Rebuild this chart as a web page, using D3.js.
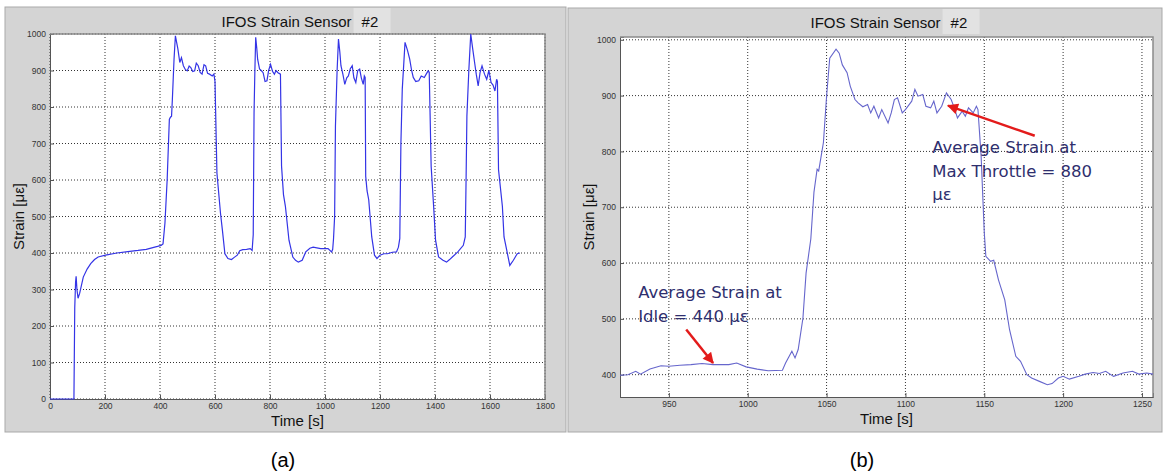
<!DOCTYPE html>
<html>
<head>
<meta charset="utf-8">
<script src="https://cdn.jsdelivr.net/npm/d3@7"></script>
<style>
body { margin: 0; background: #fff; }
svg { display: block; font-family: "Liberation Sans", Arial, sans-serif; }
</style>
</head>
<body>
<svg></svg>
<script>
// (a) whole run
let timeA = [0, 81, 87, 90, 93, 95, 98, 102, 108, 121, 135, 148, 162, 175, 202, 243, 283, 320, 350, 391, 404, 411, 418, 426, 434, 438, 442, 445, 451, 456, 465, 472, 478, 485, 492, 499, 506, 512, 519, 526, 532, 539, 546, 553, 560, 566, 573, 580, 590, 596, 600, 607, 620, 627, 636, 647, 660, 670, 681, 690, 701, 715, 728, 735, 739, 742, 745, 748, 752, 755, 762, 768, 775, 782, 789, 795, 802, 809, 816, 822, 829, 838, 842, 849, 856, 869, 883, 893, 903, 917, 930, 945, 957, 984, 1011, 1024, 1028, 1031, 1035, 1038, 1044, 1049, 1054, 1058, 1065, 1072, 1079, 1085, 1092, 1099, 1105, 1112, 1119, 1126, 1132, 1139, 1143, 1146, 1148, 1153, 1159, 1170, 1180, 1189, 1200, 1214, 1227, 1245, 1260, 1267, 1272, 1276, 1281, 1291, 1300, 1308, 1315, 1321, 1330, 1341, 1350, 1361, 1368, 1375, 1379, 1386, 1395, 1402, 1413, 1429, 1442, 1453, 1463, 1483, 1503, 1510, 1513, 1516, 1523, 1530, 1537, 1544, 1550, 1557, 1564, 1571, 1580, 1588, 1596, 1604, 1611, 1618, 1624, 1627, 1631, 1645, 1651, 1661, 1672, 1685, 1699, 1709]
let strainA = [0, 0, 0, 250, 320, 336, 300, 276, 290, 334, 356, 371, 382, 389, 394, 400, 404, 407, 410, 418, 421, 425, 482, 600, 766, 772, 775, 821, 930, 995, 959, 922, 935, 913, 903, 899, 912, 908, 897, 899, 920, 913, 895, 890, 916, 913, 892, 890, 885, 890, 870, 619, 509, 462, 398, 385, 382, 388, 394, 406, 409, 410, 412, 407, 450, 784, 900, 991, 960, 931, 904, 900, 894, 870, 872, 900, 917, 898, 890, 900, 894, 890, 638, 560, 528, 435, 389, 380, 375, 380, 403, 413, 416, 412, 412, 403, 410, 439, 500, 748, 900, 986, 950, 913, 890, 862, 880, 885, 905, 913, 880, 867, 900, 904, 880, 862, 885, 881, 610, 570, 546, 444, 394, 385, 394, 398, 398, 402, 403, 416, 440, 700, 849, 977, 955, 931, 900, 881, 870, 872, 885, 881, 890, 899, 895, 638, 528, 435, 389, 380, 375, 382, 389, 403, 421, 444, 600, 775, 900, 1000, 960, 922, 890, 858, 895, 913, 890, 876, 900, 867, 860, 844, 876, 870, 628, 528, 444, 407, 366, 380, 398, 400]
let xTicksA = [0, 200, 400, 600, 800, 1000, 1200, 1400, 1600, 1800]
let yTicksA = [0, 100, 200, 300, 400, 500, 600, 700, 800, 900, 1000]

// (b) one throttle cycle
let timeB = [919, 924, 929, 932, 938, 945, 950, 957, 964, 971, 978, 988, 993, 999, 1006, 1013, 1022, 1024, 1028, 1030, 1032, 1035, 1037, 1040, 1042, 1044, 1045, 1048, 1050, 1052, 1056, 1058, 1060, 1063, 1065, 1068, 1070, 1073, 1076, 1078, 1080, 1083, 1085, 1089, 1091, 1093, 1095, 1098, 1100, 1104, 1106, 1108, 1111, 1113, 1116, 1118, 1120, 1123, 1126, 1129, 1131, 1133, 1136, 1138, 1140, 1143, 1145, 1146, 1148, 1150, 1151, 1154, 1156, 1159, 1163, 1166, 1170, 1173, 1177, 1180, 1185, 1190, 1193, 1197, 1200, 1204, 1210, 1214, 1219, 1223, 1227, 1232, 1238, 1244, 1248, 1253, 1257]
let strainB = [399, 400, 406, 401, 410, 416, 415, 417, 418, 420, 418, 418, 421, 414, 410, 407, 408, 421, 442, 430, 445, 501, 582, 643, 727, 768, 765, 816, 899, 967, 983, 976, 955, 941, 917, 893, 887, 880, 884, 869, 881, 860, 875, 851, 869, 893, 896, 869, 875, 890, 911, 899, 902, 881, 878, 890, 869, 881, 905, 893, 878, 860, 872, 863, 878, 869, 881, 875, 792, 655, 612, 603, 605, 570, 534, 481, 433, 424, 400, 394, 388, 382, 384, 394, 397, 392, 397, 401, 404, 402, 406, 397, 403, 406, 401, 403, 401]
let xTicksB = [950, 1000, 1050, 1100, 1150, 1200, 1250]
let yTicksB = [400, 500, 600, 700, 800, 900, 1000]

// annotation text: lines with their start time / baseline strain
let noteLines = ['Average Strain at', 'Max Throttle = 880', 'με', 'Average Strain at', 'Idle = 440 με']
let noteTime = [1117, 1117, 1117, 930.5, 930.5]
let noteStrain = [797, 754, 713, 537, 494]
// arrows: tail -> tip
let arrowFrom = [[1182, 828], [961, 481]]
let arrowTo = [[1127, 882], [978, 421]]

let svg = d3.select('svg').attr('width', 1163).attr('height', 476)

let defs = svg.append('defs')
defs.append('marker')
    .attr('id', 'head')
    .attr('markerUnits', 'userSpaceOnUse')
    .attr('viewBox', '0 0 10 10')
    .attr('refX', 9).attr('refY', 5)
    .attr('markerWidth', 12).attr('markerHeight', 11)
    .attr('orient', 'auto')
    .append('path')
    .attr('d', 'M0,0 L10,5 L0,10 Z')
    .attr('fill', '#e31b1b')

let drawPanel = (p) => {
    let g = svg.append('g')
    g.append('rect')
        .attr('x', p.box[0]).attr('y', p.box[1])
        .attr('width', p.box[2]).attr('height', p.box[3])
        .attr('fill', '#d4d4d4')
        .attr('stroke', '#a9a9a9')

    let xScale = d3.scaleLinear().domain(p.xDomain).range([p.left, p.right])
    let yScale = d3.scaleLinear().domain(p.yDomain).range([p.bottom, p.top])

    g.append('rect')
        .attr('x', p.left).attr('y', p.top)
        .attr('width', p.right - p.left).attr('height', p.bottom - p.top)
        .attr('fill', '#fff')

    // grid
    g.append('g').selectAll('line')
        .data(p.xTicks)
        .enter()
        .append('line')
        .attr('x1', (d) => xScale(d)).attr('x2', (d) => xScale(d))
        .attr('y1', p.top).attr('y2', p.bottom)
        .attr('stroke', '#333').attr('stroke-dasharray', '1,2')
    g.append('g').selectAll('line')
        .data(p.yTicks)
        .enter()
        .append('line')
        .attr('x1', p.left).attr('x2', p.right)
        .attr('y1', (d) => yScale(d)).attr('y2', (d) => yScale(d))
        .attr('stroke', '#333').attr('stroke-dasharray', '1,2')

    let xAxis = d3.axisBottom(xScale).tickValues(p.xTicks).tickFormat(d3.format('d')).tickSize(-4).tickPadding(4)
    let yAxis = d3.axisLeft(yScale).tickValues(p.yTicks).tickFormat(d3.format('d')).tickSize(-4).tickPadding(4)
    let xg = g.append('g')
        .attr('transform', 'translate(0,' + p.bottom + ')')
        .call(xAxis)
    let yg = g.append('g')
        .attr('transform', 'translate(' + p.left + ',0)')
        .call(yAxis)
    for (let ax of [xg, yg]) {
        ax.select('.domain').attr('stroke', '#555')
        ax.selectAll('.tick line').attr('stroke', '#555')
        ax.selectAll('.tick text')
            .attr('fill', '#333')
            .style('font-size', '8.5px')
            .style('font-family', '"Liberation Sans", Arial, sans-serif')
    }
    // top / right edges of the box
    g.append('path')
        .attr('d', 'M' + p.left + ',' + p.top + 'H' + p.right + 'V' + p.bottom)
        .attr('fill', 'none')
        .attr('stroke', '#8a8a8a')
        .attr('stroke-width', 1.5)

    let line = d3.line()
        .x((d, i) => xScale(p.time[i]))
        .y((d) => yScale(d))
    g.append('path')
        .datum(p.strain)
        .attr('d', line)
        .attr('fill', 'none')
        .attr('stroke', p.color)
        .attr('stroke-width', p.lineWidth)

    // title with the lighter "#2" box
    let cx = (p.left + p.right) / 2
    let t1 = g.append('text')
        .attr('x', cx - 76).attr('y', p.titleY)
        .style('font-size', '15px').attr('fill', '#111')
        .text('IFOS Strain Sensor')
    let w1 = t1.node().getComputedTextLength()
    g.append('rect')
        .attr('x', cx - 76 + w1 + 2).attr('y', p.box[1] + 1)
        .attr('width', 37).attr('height', p.titleY - p.box[1] + 5)
        .attr('fill', '#e2e2e2')
    g.append('text')
        .attr('x', cx - 76 + w1 + 10).attr('y', p.titleY)
        .style('font-size', '15px').attr('fill', '#111')
        .text('#2')

    g.append('text')
        .attr('x', cx).attr('y', p.xLabelY)
        .attr('text-anchor', 'middle')
        .style('font-size', '15px').attr('fill', '#111')
        .text('Time [s]')
    g.append('text')
        .attr('transform', 'translate(' + p.yLabelX + ',' + ((p.top + p.bottom) / 2) + ') rotate(-90)')
        .attr('text-anchor', 'middle')
        .style('font-size', '15px').attr('fill', '#111')
        .text('Strain [με]')

    svg.append('text')
        .attr('x', p.capX).attr('y', 467)
        .attr('text-anchor', 'middle')
        .style('font-size', '20px').attr('fill', '#000')
        .text(p.caption)

    return [xScale, yScale, g]
}

drawPanel({
    box: [5, 7, 561, 425], left: 50, right: 545, top: 34, bottom: 399,
    xDomain: [0, 1800], yDomain: [0, 1000],
    xTicks: xTicksA, yTicks: yTicksA, time: timeA, strain: strainA,
    color: '#3434e6', lineWidth: 1.2, titleY: 27, xLabelY: 426, yLabelX: 24,
    capX: 283, caption: '(a)'
})

let [xB, yB, gB] = drawPanel({
    box: [568, 8, 594, 424], left: 620, right: 1153, top: 37, bottom: 397,
    xDomain: [919, 1257], yDomain: [360, 1005],
    xTicks: xTicksB, yTicks: yTicksB, time: timeB, strain: strainB,
    color: '#6666cc', lineWidth: 1.1, titleY: 28, xLabelY: 424, yLabelX: 594,
    capX: 862, caption: '(b)'
})

gB.append('g').selectAll('text')
    .data(noteLines)
    .enter()
    .append('text')
    .attr('x', (d, i) => xB(noteTime[i]))
    .attr('y', (d, i) => yB(noteStrain[i]))
    .style('font-family', '"DejaVu Sans", Verdana, sans-serif')
    .style('font-size', '16.5px')
    .attr('fill', '#2f2f6e')
    .text((d) => d)

gB.append('g').selectAll('line')
    .data(arrowFrom)
    .enter()
    .append('line')
    .attr('x1', (d) => xB(d[0])).attr('y1', (d) => yB(d[1]))
    .attr('x2', (d, i) => xB(arrowTo[i][0])).attr('y2', (d, i) => yB(arrowTo[i][1]))
    .attr('stroke', '#e31b1b')
    .attr('stroke-width', 2.5)
    .attr('marker-end', 'url(#head)')
</script>
</body>
</html>
